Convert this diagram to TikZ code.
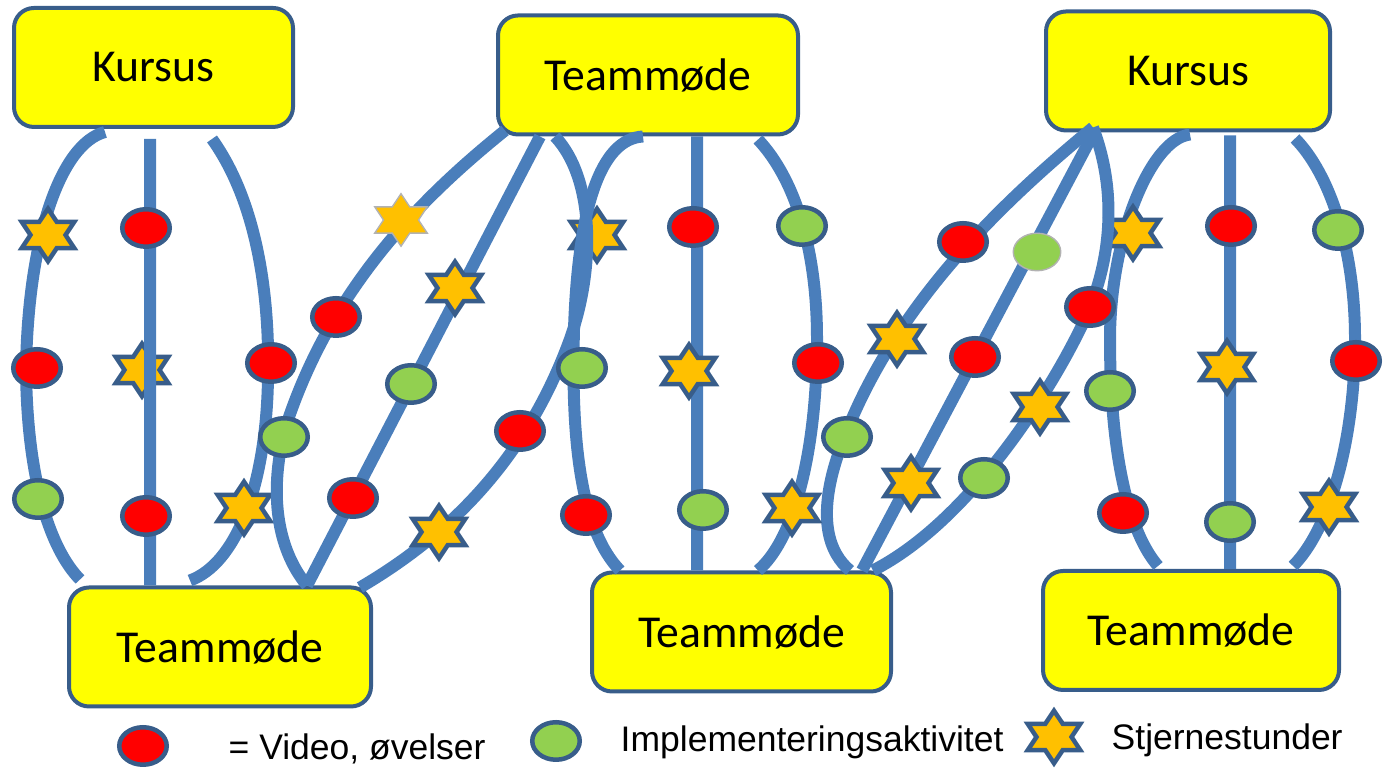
\documentclass[tikz,border=0pt]{standalone}
\usepackage{fontspec}
\setmainfont{Carlito}
\newfontfamily\legendfont{Liberation Sans}
\usepackage{tikz}
\usetikzlibrary{shapes.geometric}
\usepackage{xcolor}
\definecolor{tmline}{RGB}{74,126,187}
\definecolor{tmedge}{RGB}{56,93,138}
\definecolor{tmyellow}{RGB}{255,255,0}
\definecolor{tmred}{RGB}{255,0,0}
\definecolor{tmgreen}{RGB}{146,208,80}
\definecolor{tmorange}{RGB}{255,192,0}
\tikzstyle{strand} = [line width=0.12cm, color=tmline]
\tikzstyle{meeting} = [rectangle, rounded corners=0.2cm, minimum height=1.19cm, text centered, draw=tmedge, fill=tmyellow, line width=0.04cm, font=\fontsize{13}{15}\selectfont]
\tikzstyle{video} = [ellipse, minimum width=0.475cm, minimum height=0.375cm, inner sep=0pt, draw=tmedge, fill=tmred, line width=0.045cm]
\tikzstyle{impl} = [video, fill=tmgreen]
\tikzstyle{stjerne} = [star, star points=6, star point ratio=1.73, minimum size=0.525cm, inner sep=0pt, xscale=1.155, draw=tmedge, fill=tmorange, line width=0.045cm]
\tikzstyle{legendtext} = [anchor=base west, inner sep=0pt, font=\legendfont\fontsize{10.1}{12}\selectfont]

\begin{document}
\begin{tikzpicture}
\useasboundingbox (0,0) rectangle (13.83,7.69);

% Kursus and teammeetings
\node[meeting, minimum width=2.79cm] (k1) at (1.535,7.015) {Kursus};
\node[meeting, minimum width=3.00cm] (t2) at (6.48,6.94) {Teammøde};
\node[meeting, minimum width=2.84cm] (k3) at (11.88,6.98) {Kursus};
\node[meeting, minimum width=3.02cm] (t4) at (2.20,1.22) {Teammøde};
\node[meeting, minimum width=2.99cm] (t5) at (7.415,1.37) {Teammøde};
\node[meeting, minimum width=2.96cm] (t6) at (11.91,1.385) {Teammøde};

% Stars lying under the strands
\node[stjerne] (starA2) at (1.42,3.99) {};
\node[stjerne] (starC1) at (5.97,5.34) {};

% Kursus -> Teammøde (left)
\draw[strand] ([xshift=-0.485cm,yshift=-0.03cm]k1.south) .. controls (0.6,6.25) and (0.28,5.3) .. (0.26,4.0) .. controls (0.27,2.9) and (0.5,2.2) .. ([xshift=-1.40cm,yshift=0.06cm]t4.north);
\draw[strand] ([xshift=-0.035cm,yshift=-0.10cm]k1.south) -- ([xshift=-0.70cm]t4.north);
\draw[strand] ([xshift=0.585cm,yshift=-0.10cm]k1.south) .. controls (2.55,5.7) and (2.70,4.8) .. (2.68,3.9) .. controls (2.66,2.8) and (2.35,2.05) .. ([xshift=-0.30cm,yshift=0.05cm]t4.north);
\node[stjerne] (starA3) at (2.44,2.61) {};

% Teammøde (left) -> Teammøde (top)
\draw[strand] ([xshift=-1.43cm,yshift=0.06cm]t2.south) .. controls (4.2,5.7) and (3.3,4.8) .. (2.85,3.4) .. controls (2.65,2.6) and (2.85,2.1) .. ([xshift=0.87cm]t4.north);
\draw[strand] ([xshift=-1.08cm]t2.south) -- ([xshift=0.87cm]t4.north);
\draw[strand] ([xshift=1.40cm,yshift=-0.02cm]t4.north) .. controls (4.6,2.4) and (5.3,3.2) .. (5.7,4.3) .. controls (5.95,5.0) and (5.95,5.9) .. ([xshift=-0.93cm]t2.south);

% Teammøde (top) -> Teammøde (middle)
\draw[strand] ([xshift=-0.05cm]t2.south) .. controls (6.0,6.3) and (5.78,5.6) .. (5.74,4.4) .. controls (5.71,3.3) and (5.8,2.4) .. ([xshift=-1.215cm]t5.north);
\draw[strand] ([xshift=0.49cm]t2.south) -- ([xshift=-0.445cm]t5.north);
\draw[strand] ([xshift=1.10cm,yshift=-0.03cm]t2.south) .. controls (7.95,5.9) and (8.17,5.2) .. (8.17,4.3) .. controls (8.17,3.2) and (7.95,2.3) .. ([xshift=0.165cm]t5.north);

% Kursus (right) -> Teammøde (right)
\draw[strand] ([xshift=0.02cm,yshift=-0.02cm]k3.south) .. controls (11.5,6.3) and (11.1,5.3) .. (11.10,4.3) .. controls (11.1,3.1) and (11.3,2.35) .. ([xshift=-0.33cm,yshift=0.03cm]t6.north);
\draw[strand] ([xshift=0.42cm,yshift=-0.03cm]k3.south) -- ([xshift=0.39cm]t6.north);
\draw[strand] ([xshift=1.07cm,yshift=-0.06cm]k3.south) .. controls (13.3,5.95) and (13.55,5.2) .. (13.55,4.3) .. controls (13.55,3.3) and (13.3,2.4) .. ([xshift=1.02cm,yshift=0.03cm]t6.north);
\node[stjerne] (starE1) at (11.33,5.36) {};

% Teammøde (middle) -> Kursus (right)
\draw[strand] ([xshift=-0.95cm,yshift=0.05cm]k3.south) .. controls (10.0,5.65) and (8.9,4.6) .. (8.4,3.2) .. controls (8.15,2.5) and (8.3,2.15) .. ([xshift=1.085cm]t5.north);
\draw[strand] ([xshift=-0.93cm,yshift=0.02cm]k3.south) -- ([xshift=1.205cm]t5.north);
\draw[strand] ([xshift=-0.95cm,yshift=0.05cm]k3.south) .. controls (11.2,5.7) and (11.08,5.0) .. (10.85,4.5) .. controls (10.55,3.85) and (9.72,2.49) .. ([xshift=1.315cm]t5.north);

% Video, øvelser
\foreach \x/\y [count=\i] in {0.37/4.01, 1.46/5.41, 1.46/2.53, 2.71/4.06, 3.36/4.52, 3.53/2.71, 5.20/3.38, 5.86/2.54, 6.93/5.42, 8.18/4.06, 9.63/5.27, 9.75/4.12, 10.90/4.62, 11.23/2.56, 12.31/5.43, 13.56/4.08}
  \node[video] (v\i) at (\x,\y) {};

% Implementeringsaktiviteter
\foreach \x/\y [count=\i] in {0.38/2.70, 2.84/3.32, 4.11/3.85, 5.82/4.01, 7.03/2.59, 8.02/5.43, 8.47/3.32, 9.84/2.91, 11.10/3.78, 12.30/2.47, 13.38/5.39}
  \node[impl] (g\i) at (\x,\y) {};
\node[impl, draw=gray!60, line width=0.4pt] (gD2) at (10.37,5.17) {};

% Stjernestunder
\foreach \x/\y [count=\i] in {0.48/5.34, 4.55/4.81, 4.39/2.37, 6.89/3.98, 7.92/2.61, 8.97/4.30, 9.11/2.86, 10.40/3.62, 12.27/4.02, 13.29/2.62}
  \node[stjerne] (s\i) at (\x,\y) {};
\node[stjerne, draw=gray!60, line width=0.4pt] (starB1) at (4.01,5.49) {};

% Legend
\node[video] (legv) at (1.43,0.23) {};
\node[legendtext] (legvtxt) at (2.28,0.09) {= Video, øvelser};
\node[impl] (legi) at (5.56,0.28) {};
\node[legendtext] (legitxt) at (6.20,0.17) {Implementeringsaktivitet};
\node[stjerne] (legs) at (10.54,0.32) {};
\node[legendtext] (legstxt) at (11.11,0.19) {Stjernestunder};
\end{tikzpicture}
\end{document}
